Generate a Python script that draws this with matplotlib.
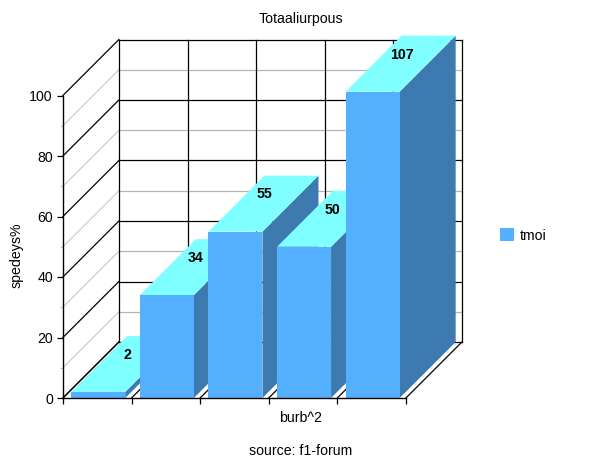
import matplotlib
matplotlib.use("Agg")
import matplotlib.pyplot as plt
from matplotlib.patches import Polygon, Rectangle

plt.rcParams['font.family'] = ['Liberation Sans', 'DejaVu Sans']

categories = ['', '', '', '', '']
values = [2, 34, 55, 50, 107]
y_ticks = [0, 20, 40, 60, 80, 100]
y_minor = [10, 30, 50, 70, 90]
series_name = 'tmoi'
title = 'Totaaliurpous'
x_label = 'burb^2'
y_label = 'spedeys%'
source = 'source: f1-forum'

W, H = 600, 463
LEFT, RIGHT, BOTTOM, TOP = 62.9, 405.9, 398.0, 95.5
DEPTH_PX = 56.0
VALUE_CLIP = 101.25
BAR_PAD = 0.122
BAR_W = 0.787
FRONT = '#55AFFF'
SIDE = '#3C7AB0'
ROOF = '#7FFFFF'
MINOR = '#B4B4B4'
FS = 10.2

fig = plt.figure(figsize=(W / 100, H / 100), dpi=100)
ax = fig.add_axes([LEFT / W, 1 - BOTTOM / H, (RIGHT - LEFT) / W, (BOTTOM - TOP) / H])
n = len(categories)
ax.set_xlim(0, n)
ax.set_ylim(0, y_ticks[-1])
ax.patch.set_visible(False)
for s in ('top', 'right'):
    ax.spines[s].set_visible(False)
for s in ('left', 'bottom'):
    ax.spines[s].set_linewidth(1.0)
    ax.spines[s].set_zorder(10)

dx = DEPTH_PX / ((RIGHT - LEFT) / n)
dy = DEPTH_PX / ((BOTTOM - TOP) / y_ticks[-1])
top = y_ticks[-1]

# back wall, side wall, floor
for v in y_minor:
    ax.plot([0, dx], [v, v + dy], color='#C8C8C8', lw=0.8, clip_on=False, zorder=1)
    ax.plot([dx, n + dx], [v + dy, v + dy], color=MINOR, lw=0.9, clip_on=False, zorder=1)
for v in y_ticks:
    ax.plot([0, dx], [v, v + dy], color='black', lw=0.9, clip_on=False, zorder=2)
    ax.plot([dx, n + dx], [v + dy, v + dy], color='black', lw=0.9, clip_on=False, zorder=2)
for i in range(n + 1):
    ax.plot([i + dx, i + dx], [dy, top + dy], color='black', lw=0.9, clip_on=False, zorder=2)
    ax.plot([i, i + dx], [0, dy], color='black', lw=0.9, clip_on=False, zorder=2)

# bars
for i, v in enumerate(values):
    h = min(v, VALUE_CLIP)
    x0 = i + BAR_PAD
    x1 = x0 + BAR_W
    z = 3 + i
    ax.add_patch(Polygon([(x1, 0), (x1 + dx, dy), (x1 + dx, h + dy), (x1, h)],
                         fc=SIDE, ec='none', clip_on=False, zorder=z))
    ax.add_patch(Polygon([(x0, h), (x1, h), (x1 + dx, h + dy), (x0 + dx, h + dy)],
                         fc=ROOF, ec='none', clip_on=False, zorder=z))
    ax.add_patch(Rectangle((x0, 0), BAR_W, h, fc=FRONT, ec='none', clip_on=False, zorder=z))
    ax.annotate(str(v), xy=((x0 + x1) / 2 + dx / 2, h + dy / 2), xytext=(0.6, 6.6),
                textcoords='offset points', ha='center', va='center', fontsize=FS,
                fontweight='bold', color='black', zorder=20, annotation_clip=False)

ax.set_xticks(range(n + 1))
ax.set_xticklabels([''] * (n + 1))
ax.set_yticks(y_ticks)
ax.set_yticks(y_minor, minor=True)
ax.tick_params(axis='both', length=4.3, width=0.9, labelsize=FS, pad=3)
ax.tick_params(axis='y', which='minor', length=2.2, width=0.8, color='#C8C8C8')

fig.text(300.5 / W, 1 - 19 / H, title, ha='center', va='center', fontsize=FS)
fig.text(300 / W, 1 - 418 / H, x_label, ha='center', va='center', fontsize=FS)
fig.text(300.5 / W, 1 - 451 / H, source, ha='center', va='center', fontsize=FS)
fig.text(17 / W, 1 - 255 / H, y_label, ha='center', va='center', rotation=90, fontsize=FS)

fig.patches.append(Rectangle((500.5 / W, 1 - 241 / H), 14 / W, 13 / H, transform=fig.transFigure,
                             fc=FRONT, ec='none'))
fig.text(520 / W, 1 - 236 / H, series_name, ha='left', va='center', fontsize=FS)

fig.savefig('out.png', dpi=100)
